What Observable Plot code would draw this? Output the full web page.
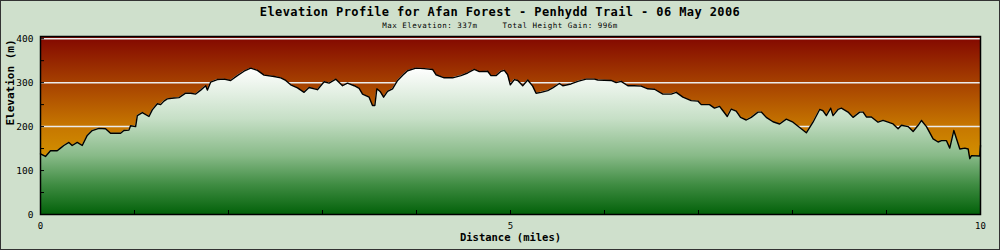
<!DOCTYPE html>
<html>
<head>
<meta charset="utf-8">
<script src="https://cdn.jsdelivr.net/npm/d3@7"></script>
<script src="https://cdn.jsdelivr.net/npm/@observablehq/plot@0.6"></script>
<style>
html, body { margin: 0; padding: 0; background: #cfe0cc; }
#wrap { position: relative; width: 1000px; height: 250px; background: #cfe0cc; box-shadow: inset 0 0 0 1px #333; overflow: hidden; font-family: "DejaVu Sans Mono", monospace; color: #000; }
#header { position: relative; height: 30px; }
#title { position: absolute; left: 0; top: 5px; width: 1000px; text-align: center; font-weight: bold; font-size: 12px; letter-spacing: 0.4px; line-height: 14px; white-space: pre; }
#sub { position: absolute; left: 0; top: 20.5px; width: 1000px; text-align: center; font-size: 7.5px; letter-spacing: 0.5px; line-height: 9px; white-space: pre; }
#chart svg { display: block; }
</style>
</head>
<body>
<div id="wrap">
  <div id="header">
    <div id="title"></div>
    <div id="sub"></div>
  </div>
  <div id="chart"></div>
</div>
<script>
const titleText = "Elevation Profile for Afan Forest - Penhydd Trail - 06 May 2006";
const subtitleText = "Max Elevation: 337m     Total Height Gain: 996m";
const xAxisLabel = "Distance (miles)";
const yAxisLabel = "Elevation (m)";

const distance = [0,0.053,0.106,0.178,0.213,0.248,0.302,0.337,0.391,0.444,
0.497,0.550,0.621,0.692,0.745,0.799,0.852,0.887,0.941,0.958,
1.012,1.030,1.083,1.154,1.189,1.243,1.278,1.313,1.349,1.420,
1.473,1.544,1.597,1.651,1.704,1.757,1.775,1.810,1.881,1.952,
2.023,2.094,2.165,2.236,2.308,2.378,2.485,2.556,2.609,2.662,
2.734,2.804,2.857,2.946,3.017,3.070,3.142,3.213,3.266,3.337,
3.390,3.426,3.496,3.532,3.557,3.578,3.613,3.650,3.692,3.745,
3.799,3.869,3.905,3.994,4.082,4.171,4.207,4.295,4.384,4.473,
4.544,4.615,4.668,4.757,4.792,4.846,4.899,4.934,4.970,4.998,
5.041,5.077,5.130,5.183,5.236,5.272,5.325,5.396,5.449,5.520,
5.556,5.644,5.716,5.804,5.893,5.929,6.070,6.124,6.177,6.248,
6.318,6.390,6.461,6.532,6.621,6.709,6.763,6.834,6.922,6.993,
7.029,7.117,7.170,7.224,7.260,7.306,7.348,7.401,7.447,7.508,
7.561,7.633,7.668,7.721,7.792,7.863,7.934,8.005,8.076,8.147,
8.218,8.289,8.325,8.360,8.406,8.431,8.484,8.520,8.591,8.644,
8.715,8.751,8.786,8.839,8.910,8.963,9.017,9.070,9.123,9.159,
9.230,9.283,9.337,9.372,9.425,9.496,9.549,9.585,9.638,9.673,
9.716,9.780,9.833,9.869,9.886,9.904,9.992,10.0];

const elevation = [138,132,145,145,151,157,164,157,164,157,
180,191,196,195,185,185,185,191,192,202,
200,225,232,223,238,252,250,258,263,265,
266,276,276,274,283,293,283,301,307,308,
305,316,326,333,328,317,314,311,305,295,
288,278,289,284,302,299,308,293,299,293,
287,274,267,248,248,286,280,267,280,286,
305,320,327,333,332,330,318,311,311,316,
322,330,325,326,316,316,326,328,318,295,
307,305,293,306,292,276,278,282,288,298,
293,297,303,308,308,306,305,300,303,293,
293,292,286,285,274,274,278,267,259,258,
250,250,242,246,236,223,240,235,221,215,
221,233,233,221,211,206,217,210,198,186,
210,239,236,225,242,225,239,242,233,221,
233,233,222,222,210,214,210,206,195,203,
200,189,203,214,200,172,165,168,168,151,
191,149,151,149,127,134,133,157];

const yTickLabels = [0, 100, 200, 300, 400];
const yMinorTicks = [0, 50, 100, 150, 200, 250, 300, 350, 400];
const gridLines = [100, 200, 300, 400];
const xTickLabels = [0, 5, 10];
const xMinorTicks = [0, 1, 2, 3, 4, 5, 6, 7, 8, 9, 10];

document.getElementById("title").textContent = titleText;
document.getElementById("sub").textContent = subtitleText;

const n = Math.min(distance.length, elevation.length);
const data = d3.range(n).map(i => ({d: distance[i], e: elevation[i]}));

const W = 1000, H = 220, mL = 40, mR = 20, mT = 6, mB = 36;
const plotW = W - mL - mR, plotH = H - mT - mB;

const chart = Plot.plot({
  width: W, height: H,
  marginLeft: mL, marginRight: mR, marginTop: mT, marginBottom: mB,
  x: {domain: [0, 10], axis: null},
  y: {domain: [0, 405], axis: null},
  style: {background: "transparent", fontFamily: "'DejaVu Sans Mono', monospace", overflow: "visible", color: "#000"},
  marks: [
    Plot.frame({fill: "url(#bgGrad)", stroke: "none"}),
    Plot.ruleY(gridLines, {y: d => d, stroke: "#ebebeb", strokeWidth: 1.5}),
    Plot.areaY(data, {x: "d", y: "e", fill: "url(#greenGrad)"}),
    Plot.lineY(data, {x: "d", y: "e", stroke: "#000", strokeWidth: 1.4}),
    Plot.tickY(yMinorTicks, {y: d => d, insetRight: plotW - 4, stroke: "#000", strokeWidth: 1}),
    Plot.tickX(xMinorTicks, {x: d => d, insetTop: plotH - 4, stroke: "#000", strokeWidth: 1}),
    Plot.frame({stroke: "#000", strokeWidth: 1.5}),
    Plot.text(yTickLabels, {y: d => d, text: d => String(d), frameAnchor: "left", dx: -7, textAnchor: "end", fontSize: 9.5, fill: "#000"}),
    Plot.text(xTickLabels, {x: d => d, text: d => String(d), frameAnchor: "bottom", dy: 14.5, fontSize: 9, fill: "#000"}),
    Plot.text([yAxisLabel], {text: d => d, frameAnchor: "left", dx: -30, rotate: -90, fontSize: 11, fontWeight: "bold", fill: "#000"}),
    Plot.text([xAxisLabel], {text: d => d, frameAnchor: "bottom", dy: 26.5, fontSize: 10.5, fontWeight: "bold", fill: "#000"})
  ]
});

const svg = d3.select(chart);
const defs = svg.insert("defs", ":first-child");
const bg = defs.append("linearGradient").attr("id", "bgGrad").attr("x1", 0).attr("y1", 0).attr("x2", 0).attr("y2", 1);
[[0, "#830700"], [0.5, "#c67600"], [1, "#e9c000"]].forEach(([o, c]) => bg.append("stop").attr("offset", o).attr("stop-color", c));
const gr = defs.append("linearGradient").attr("id", "greenGrad").attr("x1", 0).attr("y1", 0).attr("x2", 0).attr("y2", 1);
[[0, "#ffffff"], [0.35, "#c6dfc6"], [0.6, "#88ba88"], [0.8, "#3f8c42"], [1, "#03620a"]].forEach(([o, c]) => gr.append("stop").attr("offset", o).attr("stop-color", c));

document.getElementById("chart").appendChild(chart);
</script>
</body>
</html>
